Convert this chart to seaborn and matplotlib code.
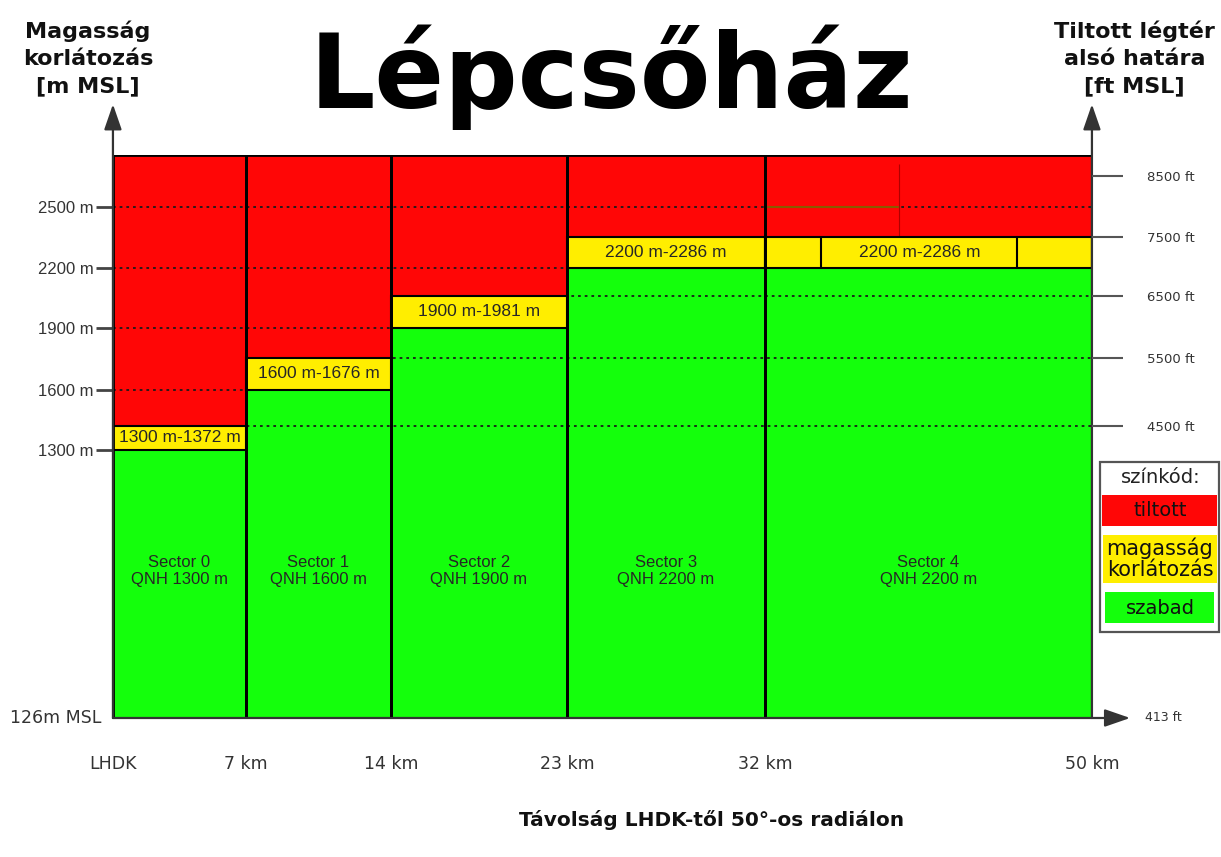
"""Lépcsőház: staircase airspace diagram along the 50° radial from LHDK."""
import matplotlib

matplotlib.use("Agg")
import matplotlib.pyplot as plt
import matplotlib.transforms as mtransforms
import numpy as np
import seaborn as sns
from matplotlib.patches import Rectangle

# ---- data -----------------------------------------------------------------
SECTORS = ["Sector 0", "Sector 1", "Sector 2", "Sector 3", "Sector 4"]
SECTOR_START_KM = [0, 7, 14, 23, 32]
SECTOR_END_KM = [7, 14, 23, 32, 50]
QNH_M = [1300, 1600, 1900, 2200, 2200]          # top of free airspace
LIMIT_TOP_M = [1372, 1676, 1981, 2286, 2286]    # lower limit of prohibited airspace
GROUND_M = 126
CEILING_M = 2650
X_TICKS_KM = [0, 7, 14, 23, 32, 50]
X_TICK_LABELS = ["LHDK", "7 km", "14 km", "23 km", "32 km", "50 km"]
M_TICKS = [1300, 1600, 1900, 2200, 2500]
FT_TICKS = [4500, 5500, 6500, 7500, 8500]
GROUND_FT = 413
SECTOR4_SPLITS_KM = [35.1, 45.9]
SECTOR4_RED_SPLIT_KM = 39.4
FT_TO_M = 0.3048

# ---- layout of the hand drawn sketch (axes are not to scale) --------------
X_ANCHOR_KM = [0, 7, 14, 23, 32, 50]
X_ANCHOR_POS = [0, 133, 278, 454, 652, 979]
Y_ANCHOR_M = [126, 1300, 1372, 1600, 1676, 1900, 1981, 2200, 2286, 2500, 2591, 2650]
Y_ANCHOR_POS = [0, 268, 292, 328, 360, 390, 422, 450, 481, 511, 542, 563]

RED = "#ff0606"
YELLOW = "#ffee00"
GREEN = "#14ff0c"
TEXT = "#262626"


def piecewise(xs, ys):
    xs = np.asarray(xs, float)
    ys = np.asarray(ys, float)
    s0 = (ys[1] - ys[0]) / (xs[1] - xs[0])
    s1 = (ys[-1] - ys[-2]) / (xs[-1] - xs[-2])

    def f(v):
        v = np.asarray(v, float)
        out = np.interp(v, xs, ys)
        out = np.where(v < xs[0], ys[0] + (v - xs[0]) * s0, out)
        out = np.where(v > xs[-1], ys[-1] + (v - xs[-1]) * s1, out)
        return out

    return f


sns.set_theme(style="white")
plt.rcParams["font.family"] = ["DejaVu Sans"]

fig = plt.figure(figsize=(12.21, 8.57), dpi=100)
ax = fig.add_axes([0.0925, 0.1622, 0.8018, 0.657])
ax.set_xscale("function", functions=(piecewise(X_ANCHOR_KM, X_ANCHOR_POS),
                                     piecewise(X_ANCHOR_POS, X_ANCHOR_KM)))
y_fns = (piecewise(Y_ANCHOR_M, Y_ANCHOR_POS), piecewise(Y_ANCHOR_POS, Y_ANCHOR_M))
ax.set_yscale("function", functions=y_fns)
ax.set_xlim(0, 50)
ax.set_ylim(GROUND_M, CEILING_M)

starts = np.array(SECTOR_START_KM, float)
widths = np.array(SECTOR_END_KM, float) - starts
qnh = np.array(QNH_M, float)
top = np.array(LIMIT_TOP_M, float)

ax.bar(starts, qnh - GROUND_M, widths, bottom=GROUND_M, align="edge", color=GREEN, lw=0, zorder=1)
ax.bar(starts, top - qnh, widths, bottom=qnh, align="edge", color=YELLOW, lw=0, zorder=1)
ax.bar(starts, CEILING_M - top, widths, bottom=top, align="edge", color=RED, lw=0, zorder=1)

# dotted reference levels
dot = dict(color="#1a1a1a", lw=1.3, ls=(0, (1.5, 2.2)), zorder=2)
for lvl in M_TICKS:
    ends = [s for s, b in zip(SECTOR_START_KM, QNH_M) if b >= lvl]
    ax.hlines(lvl, 0, ends[0] if ends else 50, **dot)
for ft in FT_TICKS:
    lvl = ft * FT_TO_M
    begins = [s for s, t in zip(SECTOR_START_KM, LIMIT_TOP_M) if t >= lvl - 1]
    if begins:
        ax.hlines(lvl, begins[0], 50, **dot)

# sector 4 details
ax.hlines(2500, SECTOR_START_KM[4], SECTOR4_RED_SPLIT_KM, color="#8a5a00", lw=1.5, zorder=2)
ax.vlines(SECTOR4_RED_SPLIT_KM, LIMIT_TOP_M[4], 2625, color="#b00000", lw=0.8, zorder=2)
ax.vlines(SECTOR4_SPLITS_KM, QNH_M[4], LIMIT_TOP_M[4], color="black", lw=1.5, zorder=3)

# outlines
ax.bar(starts, top - qnh, widths, bottom=qnh, align="edge", fill=False,
       edgecolor="black", lw=1.5, zorder=3)
ax.bar(starts, CEILING_M - GROUND_M, widths, bottom=GROUND_M, align="edge", fill=False,
       edgecolor="black", lw=2, zorder=3)

# labels inside the sectors
blend = mtransforms.blended_transform_factory(ax.transData, ax.transAxes)
for i, name in enumerate(SECTORS):
    mid = (SECTOR_START_KM[i] + SECTOR_END_KM[i]) / 2
    ax.text(mid, 0.261, f"{name}\nQNH {QNH_M[i]} m", transform=blend, ha="center",
            va="center", fontsize=12, family="Liberation Sans", color=TEXT,
            linespacing=1.15, zorder=4)
    xl = np.mean(SECTOR4_SPLITS_KM) if i == 4 else mid
    ax.text(xl, (QNH_M[i] + LIMIT_TOP_M[i]) / 2, f"{QNH_M[i]} m-{LIMIT_TOP_M[i]} m",
            ha="center", va="center", fontsize=12.5, family="Liberation Sans",
            color=TEXT, zorder=4)

# left axis (m)
ax.set_yticks(M_TICKS, [f"{v} m" for v in M_TICKS], family="Liberation Sans",
              fontsize=12, color="#333333")
ax.tick_params(axis="y", left=True, length=12, width=2, color="#444444", pad=2)
ax.set_xticks(X_TICKS_KM, X_TICK_LABELS, fontsize=12.5, color="#333333")
ax.tick_params(axis="x", bottom=True, length=0, pad=27)
ax.text(-0.012, 0, "126m MSL", transform=ax.transAxes, ha="right", va="center",
        fontsize=12.5, color="#333333")

# right axis (ft)
ax2 = ax.twinx()
ax2.set_yscale("function", functions=y_fns)
ax2.set_ylim(GROUND_M, CEILING_M)
ax2.set_yticks([ft * FT_TO_M for ft in FT_TICKS], [f"{ft} ft" for ft in FT_TICKS],
               fontsize=9.5, color="#333333")
ax2.tick_params(axis="y", right=True, length=22, width=1.5, color="#555555", pad=18)
ax2.text(1.054, 0, f"{GROUND_FT} ft", transform=ax.transAxes, ha="left", va="center",
         fontsize=9, color="#333333")

for a in (ax, ax2):
    a.grid(False)
    sns.despine(ax=a, left=True, bottom=True, right=True, top=True)

# axis arrows
arrow = dict(arrowstyle="-|>,head_length=1.3,head_width=0.45", color="#333333", lw=1.6,
             shrinkA=0, shrinkB=0)
for x0, xy in [(0, (0, 1.09)), (1, (1, 1.09))]:
    ax.annotate("", xy=xy, xytext=(x0, 0), xycoords="axes fraction",
                textcoords="axes fraction", arrowprops=arrow, zorder=5)
ax.annotate("", xy=(1.039, 0), xytext=(0, 0), xycoords="axes fraction",
            textcoords="axes fraction", arrowprops=arrow, zorder=5)

# titles
fig.text(0.501, 1 - 108 / 857, "Lépcsőház", ha="center", va="baseline",
         fontsize=74, fontweight="bold", color="black")
fig.text(0.072, 1 - 58 / 857, "Magasság\nkorlátozás\n[m MSL]", ha="center", va="center",
         fontsize=16, fontweight="bold", color="#111111", linespacing=1.45)
fig.text(0.929, 1 - 58 / 857, "Tiltott légtér\nalsó határa\n[ft MSL]", ha="center",
         va="center", fontsize=16, fontweight="bold", color="#111111", linespacing=1.45)
fig.text(0.583, 1 - 820 / 857, "Távolság LHDK-től 50°-os radiálon", ha="center",
         va="center", fontsize=14.5, fontweight="bold", color="#111111")

# colour key
W, H = 1221, 857


def fig_rect(x0, y0, x1, y1, **kw):
    fig.add_artist(Rectangle((x0 / W, 1 - y1 / H), (x1 - x0) / W, (y1 - y0) / H,
                             transform=fig.transFigure, **kw))


fig_rect(1100, 462, 1219, 632, facecolor="white", edgecolor="#555555", lw=1.6)
fig_rect(1102, 495, 1217, 526, facecolor=RED, edgecolor="none")
fig_rect(1103, 535, 1217, 583, facecolor=YELLOW, edgecolor="none")
fig_rect(1105, 592, 1214, 623, facecolor=GREEN, edgecolor="none")
fig.text(1161 / W, 1 - 477 / H, "színkód:", ha="center", va="center", fontsize=14, color="#222222")
fig.text(1160 / W, 1 - 511 / H, "tiltott", ha="center", va="center", fontsize=14, color="#111111")
fig.text(1160 / W, 1 - 559 / H, "magasság\nkorlátozás", ha="center", va="center",
         fontsize=15, color="#111111", linespacing=1.05)
fig.text(1160 / W, 1 - 608 / H, "szabad", ha="center", va="center", fontsize=14, color="#111111")

fig.savefig("out.png", dpi=100, facecolor="white")
